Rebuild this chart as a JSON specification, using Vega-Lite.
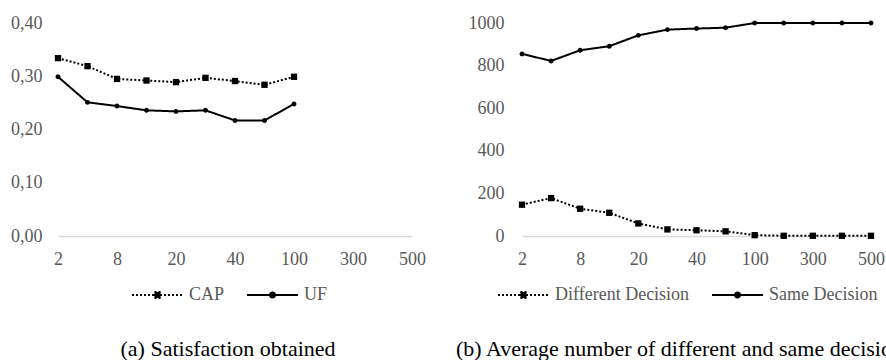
{
  "$schema": "https://vega.github.io/schema/vega-lite/v6.json",
  "padding": {"left": 10, "top": 14, "right": 0, "bottom": 0},
  "background": "white",
  "resolve": {"scale": {"strokeDash": "independent", "shape": "independent"}, "legend": {"strokeDash": "independent", "shape": "independent"}},
  "config": {
    "font": "Liberation Serif",
    "view": {"stroke": null},
    "concat": {"spacing": 30},
    "style": {"guide-label": {"font": "Liberation Serif"}},
    "axis": {
      "labelFont": "Liberation Serif",
      "labelFontSize": 18,
      "labelColor": "#595959",
      "ticks": false,
      "grid": false,
      "title": null
    },
    "legend": {
      "orient": "none",
      "direction": "horizontal",
      "title": null,
      "labelFont": "Liberation Serif",
      "labelFontSize": 18,
      "labelColor": "#595959",
      "symbolSize": 100,
      "symbolStrokeWidth": 2,
      "symbolStrokeColor": "black",
      "symbolFillColor": "black",
      "labelOffset": 43,
      "columnPadding": 18,
      "padding": 0
    }
  },
  "hconcat": [
    {
      "width": 354,
      "height": 213,
      "data": {"values": [
        {"n": 2, "series": "CAP", "v": 0.334},
        {"n": 4, "series": "CAP", "v": 0.319},
        {"n": 8, "series": "CAP", "v": 0.295},
        {"n": 10, "series": "CAP", "v": 0.292},
        {"n": 20, "series": "CAP", "v": 0.289},
        {"n": 30, "series": "CAP", "v": 0.297},
        {"n": 40, "series": "CAP", "v": 0.291},
        {"n": 50, "series": "CAP", "v": 0.284},
        {"n": 100, "series": "CAP", "v": 0.299},
        {"n": 2, "series": "UF", "v": 0.299},
        {"n": 4, "series": "UF", "v": 0.251},
        {"n": 8, "series": "UF", "v": 0.244},
        {"n": 10, "series": "UF", "v": 0.236},
        {"n": 20, "series": "UF", "v": 0.234},
        {"n": 30, "series": "UF", "v": 0.236},
        {"n": 40, "series": "UF", "v": 0.217},
        {"n": 50, "series": "UF", "v": 0.217},
        {"n": 100, "series": "UF", "v": 0.248}
      ]},
      "title": {"text": "(a) Satisfaction obtained", "orient": "bottom", "anchor": "middle", "frame": "group", "fontSize": 22, "fontWeight": "normal", "color": "black", "font": "Liberation Serif", "offset": 35, "dx": -7},
      "encoding": {
        "x": {"field": "n", "type": "ordinal", "sort": null,
              "scale": {"type": "point", "padding": 0, "domain": [2, 4, 8, 10, 20, 30, 40, 50, 100, 200, 300, 400, 500]},
              "axis": {"values": [2, 8, 20, 40, 100, 300, 500], "labelAngle": 0, "labelPadding": 14, "labelFont": "Liberation Serif", "domainColor": "#d9d9d9", "domainWidth": 1.5}},
        "y": {"field": "v", "type": "quantitative",
              "scale": {"domain": [0, 0.4], "nice": false, "zero": true},
              "axis": {"values": [0, 0.1, 0.2, 0.3, 0.4], "labelExpr": "replace(format(datum.value, '.2f'), '.', ',')", "labelFont": "Liberation Serif", "domain": false, "labelPadding": 16}}
      },
      "layer": [
        {
          "mark": {"type": "line", "color": "black", "strokeWidth": 2},
          "encoding": {
            "strokeDash": {"field": "series", "type": "nominal", "scale": {"range": [[2, 2], [1, 0]]},
              "legend": {"labelFont": "Liberation Serif", "legendX": 70, "legendY": 263, "encode": {"symbols": {"update": {
                "shape": {"signal": "datum.value == 'CAP' ? 'M-1,0H9.2M3.5,-0.6H4.7V0.6H3.5Z' : 'M-1,0H9.2M4.1,-0.5A0.5,0.5,0,1,1,4.1,0.5A0.5,0.5,0,1,1,4.1,-0.5Z'"},
                "fill": {"value": "black"},
                "stroke": {"value": "black"},
                "opacity": {"value": 1}
              }}}}}
          }
        },
        {
          "mark": {"type": "point", "filled": true, "color": "black", "opacity": 1, "size": 40},
          "encoding": {
            "shape": {"field": "series", "type": "nominal", "legend": null,
              "scale": {"range": ["M-1,-1H1V1H-1Z", "M0,-0.78A0.78,0.78,0,1,1,0,0.78A0.78,0.78,0,1,1,0,-0.78Z"]}}
          }
        }
      ]
    },
    {
      "width": 349,
      "height": 213,
      "data": {"values": [
        {"n": 2, "series": "Different Decision", "v": 147},
        {"n": 4, "series": "Different Decision", "v": 178},
        {"n": 8, "series": "Different Decision", "v": 128},
        {"n": 10, "series": "Different Decision", "v": 109},
        {"n": 20, "series": "Different Decision", "v": 59},
        {"n": 30, "series": "Different Decision", "v": 31},
        {"n": 40, "series": "Different Decision", "v": 27},
        {"n": 50, "series": "Different Decision", "v": 22},
        {"n": 100, "series": "Different Decision", "v": 4},
        {"n": 200, "series": "Different Decision", "v": 1},
        {"n": 300, "series": "Different Decision", "v": 1},
        {"n": 400, "series": "Different Decision", "v": 1},
        {"n": 500, "series": "Different Decision", "v": 1},
        {"n": 2, "series": "Same Decision", "v": 855},
        {"n": 4, "series": "Same Decision", "v": 822},
        {"n": 8, "series": "Same Decision", "v": 872},
        {"n": 10, "series": "Same Decision", "v": 891},
        {"n": 20, "series": "Same Decision", "v": 942},
        {"n": 30, "series": "Same Decision", "v": 969},
        {"n": 40, "series": "Same Decision", "v": 974},
        {"n": 50, "series": "Same Decision", "v": 978},
        {"n": 100, "series": "Same Decision", "v": 1000},
        {"n": 200, "series": "Same Decision", "v": 1000},
        {"n": 300, "series": "Same Decision", "v": 1000},
        {"n": 400, "series": "Same Decision", "v": 1000},
        {"n": 500, "series": "Same Decision", "v": 1000}
      ]},
      "title": {"text": "(b) Average number of different and same decisions", "orient": "bottom", "anchor": "start", "frame": "group", "fontSize": 22, "fontWeight": "normal", "color": "black", "font": "Liberation Serif", "offset": 35, "dx": -66},
      "encoding": {
        "x": {"field": "n", "type": "ordinal", "sort": null,
              "scale": {"type": "point", "padding": 0, "domain": [2, 4, 8, 10, 20, 30, 40, 50, 100, 200, 300, 400, 500]},
              "axis": {"values": [2, 8, 20, 40, 100, 300, 500], "labelAngle": 0, "labelPadding": 14, "labelFont": "Liberation Serif", "domainColor": "#d9d9d9", "domainWidth": 1.5}},
        "y": {"field": "v", "type": "quantitative",
              "scale": {"domain": [0, 1000], "nice": false, "zero": true},
              "axis": {"values": [0, 200, 400, 600, 800, 1000], "format": "d", "labelFont": "Liberation Serif", "domain": false, "labelPadding": 18}}
      },
      "layer": [
        {
          "mark": {"type": "line", "color": "black", "strokeWidth": 2},
          "encoding": {
            "strokeDash": {"field": "series", "type": "nominal", "scale": {"range": [[2, 2], [1, 0]]},
              "legend": {"labelFont": "Liberation Serif", "legendX": -28, "legendY": 263, "encode": {"symbols": {"update": {
                "shape": {"signal": "datum.value == 'Different Decision' ? 'M-1,0H9.2M3.5,-0.6H4.7V0.6H3.5Z' : 'M-1,0H9.2M4.1,-0.5A0.5,0.5,0,1,1,4.1,0.5A0.5,0.5,0,1,1,4.1,-0.5Z'"},
                "fill": {"value": "black"},
                "stroke": {"value": "black"},
                "opacity": {"value": 1}
              }}}}}
          }
        },
        {
          "mark": {"type": "point", "filled": true, "color": "black", "opacity": 1, "size": 40},
          "encoding": {
            "shape": {"field": "series", "type": "nominal", "legend": null,
              "scale": {"range": ["M-1,-1H1V1H-1Z", "M0,-0.78A0.78,0.78,0,1,1,0,0.78A0.78,0.78,0,1,1,0,-0.78Z"]}}
          }
        }
      ]
    }
  ]
}
